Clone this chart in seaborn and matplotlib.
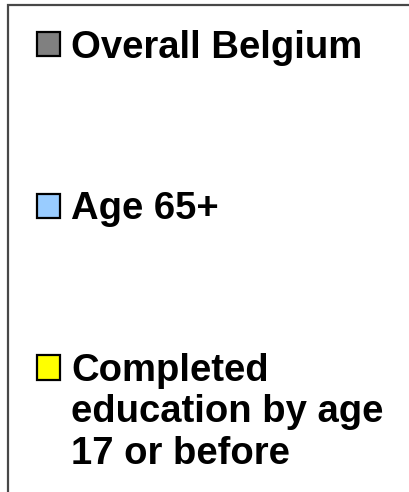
import matplotlib
matplotlib.use("Agg")
import matplotlib.pyplot as plt
import pandas as pd
import seaborn as sns

# legend entries of the (cropped) chart
CATEGORIES = ["Overall Belgium", "Age 65+", "Completed\neducation by age\n17 or before"]
COLORS = ["#808080", "#99ccff", "#ffff00"]
VALUES = [1, 1, 1]

sns.set_theme(style="white")
plt.rcParams["font.family"] = ["Liberation Sans", "DejaVu Sans"]
plt.rcParams["text.color"] = "black"

fig = plt.figure(figsize=(4.09, 4.92), dpi=100)
# the bars themselves fall outside the crop; only the legend is visible
ax = fig.add_axes([0.1, 0.1, 0.5, 0.5])

df = pd.DataFrame({"group": CATEGORIES, "value": VALUES})
sns.barplot(
    data=df,
    x="group",
    y="value",
    hue="group",
    palette=COLORS,
    saturation=1,
    edgecolor="black",
    linewidth=1.6,
    ax=ax,
    legend=True,
)
handles, labels = ax.get_legend_handles_labels()
ax.get_legend().remove()
ax.set_visible(False)

FS = 27.5
LINESP = 1.19
leg = fig.legend(
    handles,
    labels,
    loc="upper left",
    bbox_to_anchor=(8 / 409, 1 - 5 / 492, 2.0, 0),
    mode="expand",
    frameon=True,
    fancybox=False,
    prop={"family": "Liberation Sans", "weight": "bold", "size": FS},
    handlelength=0.733,
    handleheight=0.6,
    handletextpad=0.27,
    borderpad=0.645,
    borderaxespad=0,
    labelspacing=3.29,
)
for t in leg.get_texts():
    t.set_linespacing(LINESP)
    t.set_color("black")

# swatches: 23px squares, nudged a bit right inside the handle box
to_pt = 72 / fig.dpi
for h in leg.legend_handles:
    h.set_x(h.get_x() + 4.4 * to_pt)
    h.set_width(23 * to_pt)

# put the swatch of the multi-line entry next to its first line
renderer = fig.canvas.get_renderer()
prop = leg.get_texts()[-1].get_fontproperties()
_, lp_h, lp_d = renderer.get_text_width_height_descent("lp", prop, ismath=False)
pitch = lp_d + (lp_h - lp_d) * LINESP
nlines = labels[-1].count("\n") + 1
h = leg.legend_handles[-1]
h.set_y(h.get_y() + ((nlines - 1) * pitch + lp_d) / 2 * to_pt)

frame = leg.get_frame()
frame.set_edgecolor("#1a1a1a")
frame.set_linewidth(1.6)
frame.set_facecolor("white")

fig.savefig("out.png", dpi=100)
